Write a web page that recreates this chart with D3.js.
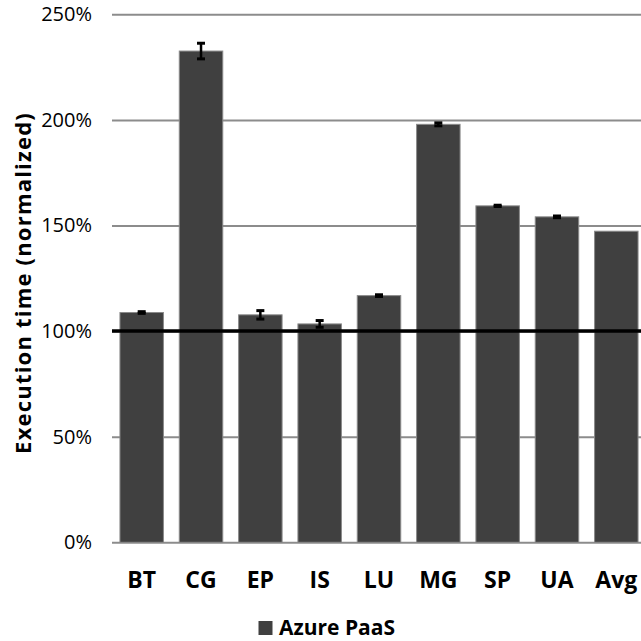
<!DOCTYPE html>
<html><head><meta charset="utf-8">
<script src="https://cdn.jsdelivr.net/npm/d3@7"></script>
<style>body{margin:0;background:#fff}svg{display:block}</style>
</head><body>
<svg id="c" width="641" height="641"></svg>
<script>
const categories = ["BT","CG","EP","IS","LU","MG","SP","UA","Avg"];
const values = [108.8, 232.6, 107.7, 103.4, 116.8, 197.9, 159.3, 154.1, 147.3];
const errors = [0.4, 3.7, 2.0, 1.6, 0.4, 0.7, 0.3, 0.4, null];
const yTicks = [0, 50, 100, 150, 200, 250];
const seriesName = "Azure PaaS";

const svg = d3.select("#c");
const x = d3.scaleBand().domain(categories).range([112, 646]).paddingInner(0.267).paddingOuter(0.134);
const y = d3.scaleLinear().domain([0, 250]).range([542.3, 14.3]);

// gridlines
svg.append("g").attr("transform","translate(112,0)")
  .call(d3.axisLeft(y).tickValues(yTicks).tickSize(-529).tickFormat(""))
  .call(g=>g.select(".domain").remove())
  .call(g=>g.selectAll("line").attr("stroke","#8c8c8c").attr("stroke-width",2));

// y tick labels
svg.append("g").attr("transform","translate(92,0)")
  .call(d3.axisLeft(y).tickValues(yTicks).tickSize(0).tickPadding(0).tickFormat(d=>d+"%"))
  .call(g=>g.select(".domain").remove())
  .call(g=>g.selectAll("text").attr("font-family","'Open Sans'").attr("font-size",20).attr("fill","#000"));

// bars
svg.append("g").selectAll("rect").data(categories).join("rect")
  .attr("x", d=>x(d)).attr("width", x.bandwidth())
  .attr("y", (d,i)=>y(values[i])).attr("height", (d,i)=>y(0)-y(values[i]))
  .attr("fill","#404040").attr("stroke","#8a8a8a").attr("stroke-width",1);

// reference 100% line
svg.append("line").attr("x1",112).attr("x2",641).attr("y1",y(100)).attr("y2",y(100))
  .attr("stroke","#000").attr("stroke-width",3.5);

// error bars
const eg = svg.append("g");
categories.forEach((c,i)=>{
  if(errors[i]==null) return;
  const cx = x(c)+x.bandwidth()/2;
  const hi = y(values[i]+errors[i]), lo = y(values[i]-errors[i]);
  eg.append("line").attr("x1",cx).attr("x2",cx).attr("y1",hi).attr("y2",lo).attr("stroke","#000").attr("stroke-width",2.5);
  [hi,lo].forEach(yy=>eg.append("line").attr("x1",cx-4).attr("x2",cx+4).attr("y1",yy).attr("y2",yy).attr("stroke","#000").attr("stroke-width",3));
});

// x labels
svg.append("g").attr("transform","translate(0,588)")
  .call(d3.axisBottom(x).tickSize(0).tickPadding(0))
  .call(g=>g.select(".domain").remove())
  .call(g=>g.selectAll("text").attr("dy",0).attr("font-family","'Open Sans'").attr("font-weight","bold").attr("font-size",23).attr("fill","#000"));

// y title
svg.append("text").attr("transform","translate(31,283) rotate(-90)")
  .attr("text-anchor","middle").attr("font-family","'Open Sans'").attr("font-weight","bold").attr("font-size",22)
  .attr("letter-spacing",1.2)
  .text("Execution time (normalized)");

// legend
svg.append("rect").attr("x",258.5).attr("y",621).attr("width",14).attr("height",14).attr("fill","#404040");
svg.append("text").attr("x",279).attr("y",635).attr("font-family","'Open Sans'").attr("font-weight","bold").attr("font-size",21)
  .text(seriesName);
</script>
</body></html>
